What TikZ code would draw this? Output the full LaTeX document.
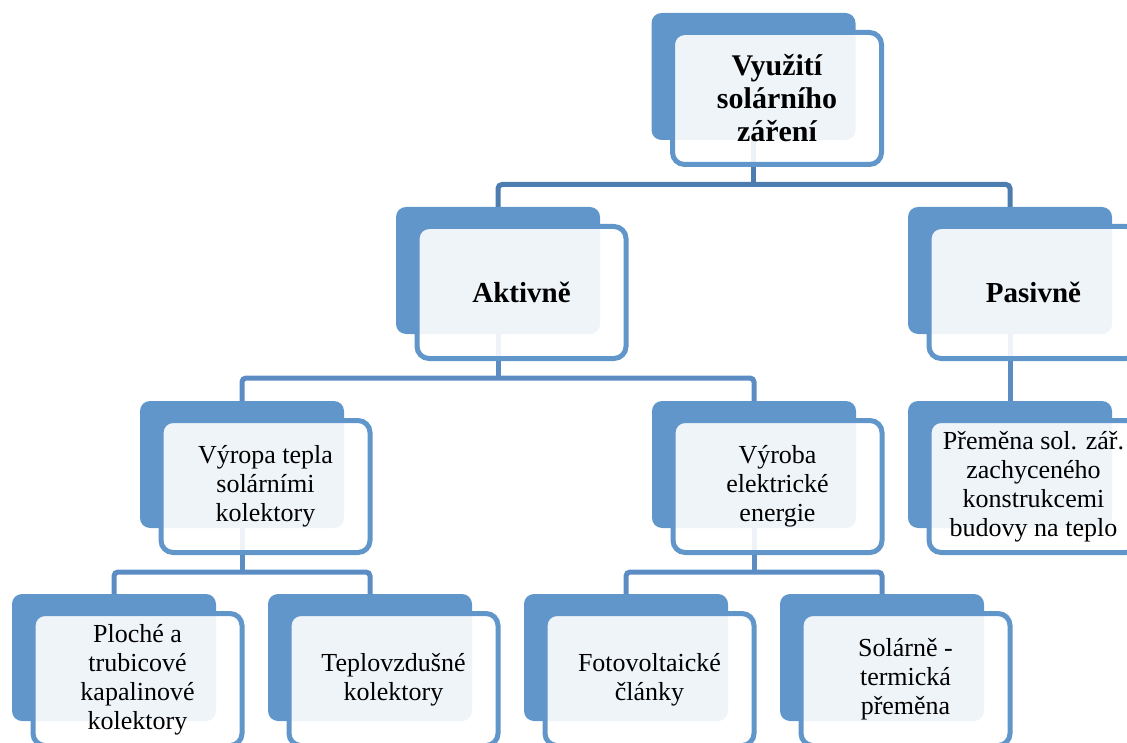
\documentclass[tikz,border=0pt]{standalone}
\usepackage{fontspec}
\setmainfont{LiberationSerif}[Extension=.ttf, UprightFont=*-Regular, BoldFont=*-Bold, ItalicFont=*-Italic, BoldItalicFont=*-BoldItalic]
\definecolor{dk}{RGB}{97,150,202}
\definecolor{cone}{RGB}{76,124,176}
\definecolor{ctwo}{RGB}{91,141,196}
\tikzset{
  darkbox/.style={fill=dk, rounded corners=10pt, minimum width=204pt, minimum height=127pt, inner sep=0pt},
  frontbox/.style={draw=dk, line width=5pt, fill=white, fill opacity=0.9, text opacity=1, rounded corners=12pt, minimum width=209pt, minimum height=132pt, inner sep=0pt, align=center},
  rootfont/.style={font=\rmfamily\bfseries\fontsize{30}{33}\selectfont},
  lvltwo/.style={font=\rmfamily\bfseries\fontsize{29}{33}\selectfont},
  lvlrest/.style={font=\rmfamily\fontsize{26}{29}\selectfont},
  connA/.style={draw=cone, line width=5pt, rounded corners=4pt},
  connB/.style={draw=ctwo, line width=5pt, rounded corners=4pt}
}
\begin{document}
\begin{tikzpicture}[x=1pt,y=-1pt]
\useasboundingbox (0,0) rectangle (1127,743);
\clip (0,0) rectangle (1127,743);
% bar coordinates
\coordinate (b1) at (0,184.5);
\coordinate (b2) at (0,378);
\coordinate (b3) at (0,572);
% box centres
\path
  (753.5,76.5) coordinate (rootc)
  (498,270.5) coordinate (aktc)
  (1010,270.5) coordinate (pasc)
  (242,464.5) coordinate (vyrpc)
  (754,464.5) coordinate (vyrbc)
  (1010,464.5) coordinate (premc)
  (114,657.5) coordinate (plc)
  (370,657.5) coordinate (tepc)
  (626,657.5) coordinate (fotc)
  (882,657.5) coordinate (solc);
% connectors
\draw[connA] (rootc) -- (rootc |- b1);
\draw[connA] (aktc) |- (pasc |- b1) -- (pasc);
\draw[connB] (aktc) -- (aktc |- b2);
\draw[connB] (vyrpc) |- (vyrbc |- b2) -- (vyrbc);
\draw[connB] (pasc) -- (premc);
\draw[connB] (vyrpc) -- (vyrpc |- b3);
\draw[connB] (plc) |- (tepc |- b3) -- (tepc);
\draw[connB] (vyrbc) -- (vyrbc |- b3);
\draw[connB] (fotc) |- (solc |- b3) -- (solc);
% boxes
\node[darkbox] (rootd) at (rootc) {};
\node[frontbox, rootfont] (rootf) at (777,98.5) {Využití\\solárního\\záření};
\node[darkbox] (aktd) at (aktc) {};
\node[frontbox, lvltwo] (aktf) at (521.5,292.5) {Aktivně};
\node[darkbox] (pasd) at (pasc) {};
\node[frontbox, lvltwo] (pasf) at (1033.5,292.5) {Pasivně};
\node[darkbox] (vyrpd) at (vyrpc) {};
\node[frontbox, lvlrest] (vyrpf) at (265.5,486.5) {Výropa tepla\\solárními\\kolektory};
\node[darkbox] (vyrbd) at (vyrbc) {};
\node[frontbox, lvlrest] (vyrbf) at (777.5,486.5) {Výroba\\elektrické\\energie};
\node[darkbox] (premd) at (premc) {};
\node[frontbox, lvlrest] (premf) at (1033.5,486.5) {Přeměna sol. zář.\\zachyceného\\konstrukcemi\\budovy na teplo};
\node[darkbox] (pld) at (plc) {};
\node[frontbox, lvlrest] (plf) at (137.5,679.5) {Ploché a\\trubicové\\kapalinové\\kolektory};
\node[darkbox] (tepd) at (tepc) {};
\node[frontbox, lvlrest] (tepf) at (393.5,679.5) {Teplovzdušné\\kolektory};
\node[darkbox] (fotd) at (fotc) {};
\node[frontbox, lvlrest] (fotf) at (649.5,679.5) {Fotovoltaické\\články};
\node[darkbox] (sold) at (solc) {};
\node[frontbox, lvlrest] (solf) at (905.5,679.5) {Solárně -\\termická\\přeměna};
\end{tikzpicture}
\end{document}
